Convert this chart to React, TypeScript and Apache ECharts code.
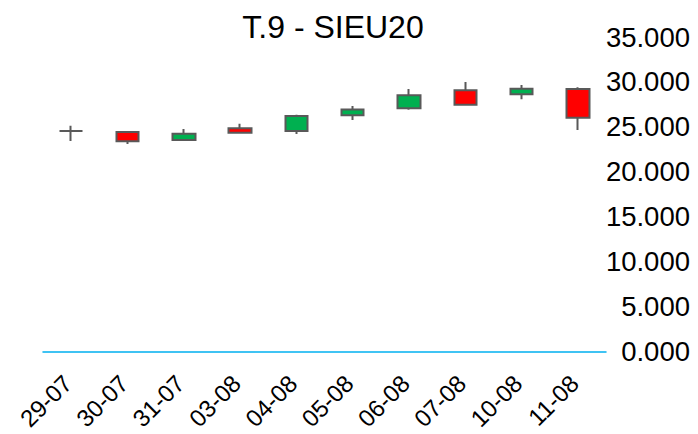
import React, { useEffect, useRef } from "react";
import * as echarts from "echarts";

const categories = ["29-07", "30-07", "31-07", "03-08", "04-08", "05-08", "06-08", "07-08", "10-08", "11-08"];
const openValues = [24540, 24430, 23540, 24840, 24540, 26290, 27070, 29070, 28620, 29210];
const closeValues = [24540, 23400, 24240, 24350, 26210, 26950, 28510, 27470, 29250, 26030];
const lowValues = [23430, 23100, 23430, 24290, 24210, 25770, 26910, 27470, 28070, 24650];
const highValues = [25130, 24540, 24760, 25350, 26350, 27320, 29210, 29990, 29660, 29400];
const yTicks = { min: 0, max: 35000, interval: 5000 };

export default function App() {
  const ref = useRef<HTMLDivElement>(null);
  useEffect(() => {
    if (!ref.current) return;
    const chart = echarts.init(ref.current, undefined, { renderer: "svg" });
    const data = categories.map((_, i) => [openValues[i], closeValues[i], lowValues[i], highValues[i]]);
    chart.setOption({
      animation: false,
      textStyle: { fontFamily: "Liberation Sans, Arial, sans-serif" },
      title: {
        text: "T.9 - SIEU20",
        left: 328,
        top: 6,
        textAlign: "center",
        textStyle: { fontSize: 32, fontWeight: "normal", color: "#000", fontFamily: "Liberation Sans, Arial, sans-serif" },
      },
      grid: { left: 43, right: 92, top: 37, bottom: 82.3, containLabel: false },
      xAxis: {
        type: "category",
        data: categories,
        axisLine: { show: true, lineStyle: { color: "#00B0F0", width: 1.5 } },
        axisTick: { show: false },
        axisLabel: {
          rotate: 45,
          fontSize: 24,
          color: "#000",
          margin: 24,
          interval: 0,
          verticalAlign: "middle",
          padding: [0, 5, 0, 0],
        },
        splitLine: { show: false },
      },
      yAxis: {
        type: "value",
        position: "right",
        min: yTicks.min,
        max: yTicks.max,
        interval: yTicks.interval,
        axisLine: { show: false },
        axisTick: { show: false },
        splitLine: { show: false },
        axisLabel: {
          fontSize: 27.5,
          color: "#000",
          align: "right",
          margin: 84,
          formatter: (v: number) => (v / 1000).toFixed(3),
        },
      },
      series: [
        {
          type: "candlestick",
          data,
          barWidth: 23,
          itemStyle: {
            color: "#00B050",
            color0: "#FF0000",
            borderColor: "#595959",
            borderColor0: "#595959",
            borderColorDoji: "#595959",
            borderWidth: 2,
          },
        },
      ],
    });
    return () => chart.dispose();
  }, []);
  return <div ref={ref} style={{ width: 698, height: 434, position: "absolute", left: 0, top: 0 }} />;
}
